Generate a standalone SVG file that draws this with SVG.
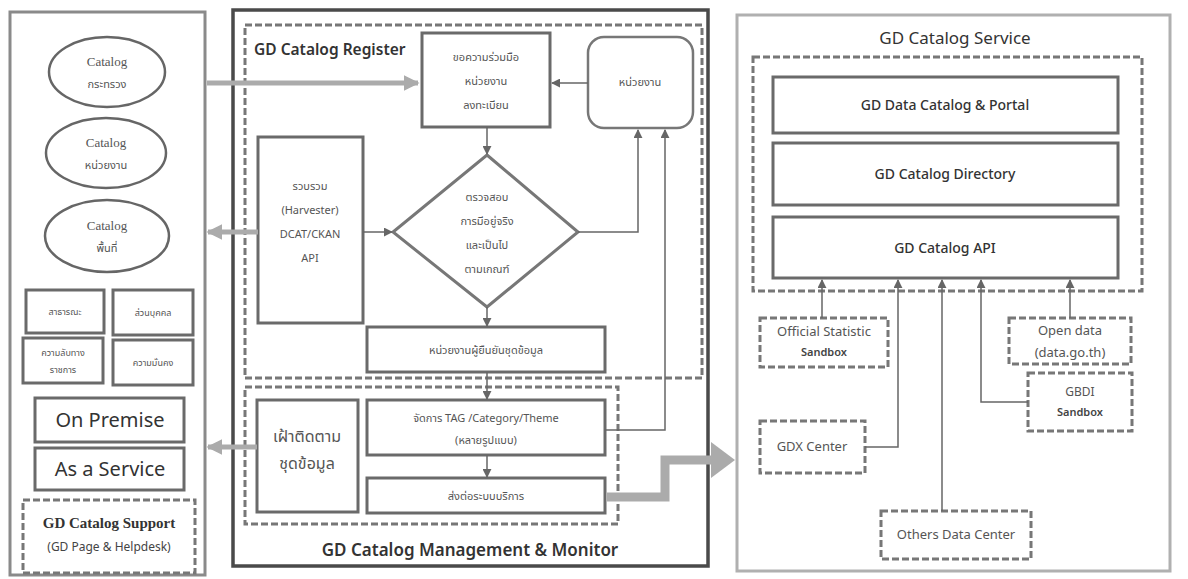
<svg xmlns="http://www.w3.org/2000/svg" width="1188" height="579" viewBox="0 0 1188 579">
<defs>
<style>
.th{font-family:"Noto Sans Thai","Noto Sans","DejaVu Sans",sans-serif;fill:#555;text-anchor:middle}
.en{font-family:"Noto Sans","Open Sans","DejaVu Sans",sans-serif;fill:#333;text-anchor:middle}
.st{text-anchor:start}
.sr{font-family:"Liberation Serif",serif;fill:#555;text-anchor:middle}
.box{fill:#fff;stroke:#6a6a6a;stroke-width:3}
.dash{fill:none;stroke:#777;stroke-width:3;stroke-dasharray:7 3}
.thin{fill:none;stroke:#666;stroke-width:1.5}
.thick{fill:none;stroke:#ababab;stroke-width:5}
</style>
<marker id="ah" viewBox="0 0 10 10" refX="9" refY="5" markerWidth="9" markerHeight="9" markerUnits="userSpaceOnUse" orient="auto">
<path d="M0,0 L10,5 L0,10 z" fill="#666"/>
</marker>
<marker id="ahg" viewBox="0 0 10 10" refX="9" refY="5" markerWidth="16" markerHeight="16" markerUnits="userSpaceOnUse" orient="auto">
<path d="M0,0 L10,5 L0,10 z" fill="#ababab"/>
</marker>
</defs>
<rect width="1188" height="579" fill="#fff"/>

<!-- Left panel -->
<g id="left-panel">
<rect x="10" y="12" width="195" height="563" fill="none" stroke="#8a8a8a" stroke-width="3"/>
</g>
<g id="catalog-ministry">
<ellipse cx="107" cy="72" rx="58" ry="35" fill="#fff" stroke="#666" stroke-width="2.5"/>
<text class="sr" x="107" y="66" font-size="13">Catalog</text>
<text class="th" x="107" y="88" font-size="11">กระทรวง</text>
</g>
<g id="catalog-agency">
<ellipse cx="106" cy="153" rx="60" ry="35" fill="#fff" stroke="#666" stroke-width="2.5"/>
<text class="sr" x="106" y="147" font-size="13">Catalog</text>
<text class="th" x="106" y="169" font-size="11">หน่วยงาน</text>
</g>
<g id="catalog-area">
<ellipse cx="107" cy="236" rx="62" ry="36" fill="#fff" stroke="#666" stroke-width="2.5"/>
<text class="sr" x="107" y="230" font-size="13">Catalog</text>
<text class="th" x="107" y="252" font-size="11">พื้นที่</text>
</g>
<g id="cls-public">
<rect class="box" x="26" y="290" width="78" height="43" stroke-width="2.5"/>
<text class="th" x="65" y="315" font-size="9">สาธารณะ</text>
</g>
<g id="cls-personal">
<rect class="box" x="113" y="290" width="80" height="45" stroke-width="2.5"/>
<text class="th" x="153" y="316" font-size="9">ส่วนบุคคล</text>
</g>
<g id="cls-secret">
<rect class="box" x="23" y="338" width="80" height="45" stroke="#555" stroke-width="3.5"/>
<text class="th" x="63" y="356" font-size="9">ความลับทาง</text>
<text class="th" x="63" y="373" font-size="9">ราชการ</text>
</g>
<g id="cls-security">
<rect class="box" x="113" y="340" width="80" height="45" stroke="#555" stroke-width="3.5"/>
<text class="th" x="153" y="366" font-size="9">ความมั่นคง</text>
</g>
<g id="on-premise">
<rect class="box" x="35" y="398" width="149" height="44"/>
<text class="en" x="110" y="427" font-size="20">On Premise</text>
</g>
<g id="as-a-service">
<rect class="box" x="35" y="448" width="149" height="42"/>
<text class="en" x="110" y="476" font-size="20">As a Service</text>
</g>
<g id="catalog-support">
<rect class="dash" x="23" y="500" width="172" height="73"/>
<text class="sr" x="109" y="528" font-size="15" font-weight="bold" style="fill:#333">GD Catalog Support</text>
<text class="en" x="109" y="551" font-size="12" style="fill:#444">(GD  Page &amp; Helpdesk)</text>
</g>

<!-- Middle panel -->
<g id="middle-panel">
<rect x="233" y="10" width="475" height="556" fill="none" stroke="#4a4a4a" stroke-width="3.5"/>
<text class="en" x="470" y="556" font-size="17" font-weight="600">GD Catalog Management &amp; Monitor</text>
</g>
<g id="register-group">
<rect class="dash" x="245" y="25" width="457" height="353"/>
<text class="en st" x="254" y="55" font-size="15.5" font-weight="600">GD Catalog Register</text>
</g>
<g id="management-group">
<rect class="dash" x="245" y="387" width="373" height="137"/>
</g>
<g id="request-register">
<rect class="box" x="422" y="33" width="128" height="94"/>
<text class="th" x="486" y="61" font-size="11">ขอความร่วมมือ</text>
<text class="th" x="486" y="85" font-size="11">หน่วยงาน</text>
<text class="th" x="486" y="109" font-size="11">ลงทะเบียน</text>
</g>
<g id="agency">
<rect x="588" y="37" width="105" height="91" rx="16" fill="#fff" stroke="#777" stroke-width="2.5"/>
<text class="th" x="640" y="86" font-size="11">หน่วยงาน</text>
</g>
<g id="harvester">
<rect class="box" x="258" y="137" width="105" height="186"/>
<text class="th" x="310" y="190" font-size="11">รวบรวม</text>
<text class="th" x="310" y="214" font-size="11">(Harvester)</text>
<text class="th" x="310" y="238" font-size="11">DCAT/CKAN</text>
<text class="th" x="310" y="262" font-size="11">API</text>
</g>
<g id="verify">
<polygon points="487,155 578,232 487,307 393,232" fill="#fff" stroke="#777" stroke-width="3"/>
<text class="th" x="487" y="201" font-size="11">ตรวจสอบ</text>
<text class="th" x="487" y="225" font-size="11">การมีอยู่จริง</text>
<text class="th" x="487" y="249" font-size="11">และเป็นไป</text>
<text class="th" x="487" y="273" font-size="11">ตามเกณฑ์</text>
</g>
<g id="confirm">
<rect class="box" x="367" y="327" width="238" height="45"/>
<text class="th" x="486" y="354" font-size="11">หน่วยงานผู้ยืนยันชุดข้อมูล</text>
</g>
<g id="tag-manage">
<rect class="box" x="367" y="400" width="238" height="55"/>
<text class="th" x="486" y="422" font-size="11">จัดการ TAG /Category/Theme</text>
<text class="th" x="486" y="444" font-size="11">(หลายรูปแบบ)</text>
</g>
<g id="forward-service">
<rect class="box" x="367" y="478" width="238" height="35"/>
<text class="th" x="486" y="500" font-size="11">ส่งต่อระบบบริการ</text>
</g>
<g id="monitor">
<rect class="box" x="257" y="400" width="101" height="112"/>
<text class="th" x="307" y="442" font-size="16">เฝ้าติดตาม</text>
<text class="th" x="307" y="469" font-size="16">ชุดข้อมูล</text>
</g>

<!-- Right panel -->
<g id="right-panel">
<rect x="737" y="15" width="433" height="556" fill="none" stroke="#b0b0b0" stroke-width="3"/>
<text class="en" x="955" y="44" font-size="17">GD Catalog Service</text>
</g>
<g id="service-group">
<rect class="dash" x="753" y="57" width="389" height="234" stroke="#999" stroke-width="2.5"/>
</g>
<g id="data-catalog-portal">
<rect class="box" x="773" y="77" width="345" height="56"/>
<text class="en" x="945" y="110" font-size="14" font-weight="500">GD Data Catalog &amp; Portal</text>
</g>
<g id="catalog-directory">
<rect class="box" x="773" y="143" width="345" height="62"/>
<text class="en" x="945" y="179" font-size="14" font-weight="500">GD Catalog Directory</text>
</g>
<g id="catalog-api">
<rect class="box" x="773" y="217" width="345" height="61"/>
<text class="en" x="945" y="253" font-size="14" font-weight="500">GD Catalog API</text>
</g>
<g id="official-statistic">
<rect class="dash" x="760" y="318" width="128" height="49" stroke="#666" stroke-width="3.5"/>
<text class="en" x="824" y="336" font-size="13" style="fill:#555">Official Statistic</text>
<text class="en" x="824" y="356" font-size="11" font-weight="600" style="fill:#444">Sandbox</text>
</g>
<g id="gdx-center">
<rect class="dash" x="760" y="421" width="105" height="52" stroke="#666" stroke-width="3.5"/>
<text class="en" x="812" y="451" font-size="13" style="fill:#555">GDX Center</text>
</g>
<g id="others-dc">
<rect class="dash" x="881" y="511" width="150" height="48" stroke="#666" stroke-width="3.5"/>
<text class="en" x="956" y="539" font-size="13" style="fill:#555">Others Data Center</text>
</g>
<g id="open-data">
<rect class="dash" x="1009" y="318" width="122" height="46" stroke="#666" stroke-width="3.5"/>
<text class="en" x="1070" y="335" font-size="13" style="fill:#555">Open data</text>
<text class="en" x="1070" y="357" font-size="13" style="fill:#555">(data.go.th)</text>
</g>
<g id="gbdi">
<rect class="dash" x="1028" y="373" width="104" height="58" stroke="#666" stroke-width="3.5"/>
<text class="en" x="1080" y="396" font-size="12" style="fill:#555">GBDI</text>
<text class="en" x="1080" y="416" font-size="11" font-weight="600" style="fill:#444">Sandbox</text>
</g>

<!-- Connectors -->
<g id="connectors">
<path class="thick" d="M207,83 L418,83" marker-end="url(#ahg)"/>
<path class="thick" d="M258,232 L208,232" marker-end="url(#ahg)"/>
<path class="thick" d="M257,447 L208,447" marker-end="url(#ahg)"/>
<path d="M607,497 L665,497 L665,460 L712,460" fill="none" stroke="#ababab" stroke-width="9"/>
<path d="M711,442 L735,460 L711,478 z" fill="#ababab"/>
<path class="thin" d="M588,83 L552,83" marker-end="url(#ah)"/>
<path class="thin" d="M487,127 L487,154" marker-end="url(#ah)"/>
<path class="thin" d="M363,232 L392,232" marker-end="url(#ah)"/>
<path class="thin" d="M578,232 L638,232 L638,130" marker-end="url(#ah)"/>
<path class="thin" d="M605,430 L665,430 L665,130" marker-end="url(#ah)"/>
<path class="thin" d="M487,307 L487,326" marker-end="url(#ah)"/>
<path class="thin" d="M487,372 L487,399" marker-end="url(#ah)"/>
<path class="thin" d="M487,455 L487,477" marker-end="url(#ah)"/>
<path class="thin" d="M822,318 L822,280" marker-end="url(#ah)"/>
<path class="thin" d="M865,447 L898,447 L898,280" marker-end="url(#ah)"/>
<path class="thin" d="M942,511 L942,280" marker-end="url(#ah)"/>
<path class="thin" d="M1028,402 L981,402 L981,280" marker-end="url(#ah)"/>
<path class="thin" d="M1070,318 L1070,280" marker-end="url(#ah)"/>
</g>
</svg>
